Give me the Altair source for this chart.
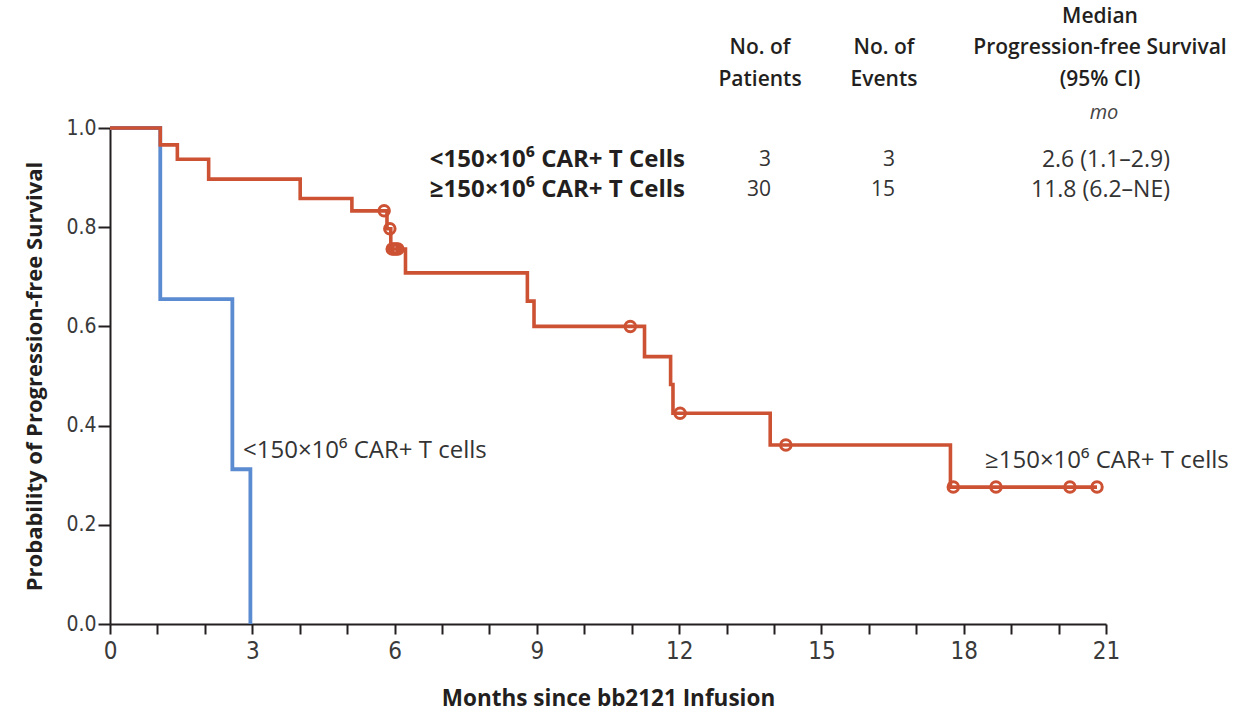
import altair as alt
import pandas as pd

# ---- Kaplan–Meier curves (months, survival probability after each step) ----
low_time = [0.0, 1.06, 2.58, 2.96]
low_surv = [1.0, 0.655, 0.312, 0.0]

high_time = [0.0, 1.06, 1.42, 2.08, 4.01, 5.10, 5.84, 5.92, 6.23, 8.80, 8.94,
             11.27, 11.82, 11.87, 13.92, 17.72, 20.81]
high_surv = [1.0, 0.966, 0.937, 0.897, 0.858, 0.833, 0.797, 0.756, 0.708, 0.651,
             0.600, 0.539, 0.483, 0.425, 0.361, 0.276, 0.276]

# censored observations in the high-dose group (months)
high_censor = [5.78, 5.90, 5.95, 5.99, 6.03, 6.07, 10.97, 12.02, 14.25,
               17.78, 18.68, 20.24, 20.81]

# ---- summary table ----
groups = ["<150×10⁶ CAR+ T Cells", "≥150×10⁶ CAR+ T Cells"]
patients = ["3", "30"]
events = ["3", "15"]
median_pfs = ["2.6 (1.1–2.9)", "11.8 (6.2–NE)"]

x_ticks = list(range(0, 22))
y_ticks = [0.0, 0.2, 0.4, 0.6, 0.8, 1.0]

RED = "#cd5234"
BLUE = "#5b8bd0"
INK = "#231f20"
NARROW = "Liberation Sans Narrow, DejaVu Sans Condensed, sans-serif"
SANS = "Open Sans, Noto Sans, sans-serif"
HEADF = "Open Sans, Lato, sans-serif"

W, H = 996, 496
LEFT, TOP = 110, 128


def step_value(t, times, surv):
    """Survival level of a step curve at time t."""
    val = surv[0]
    for ti, si in zip(times, surv):
        if ti <= t:
            val = si
    return val


low_df = pd.DataFrame({"t": low_time, "s": low_surv})
high_df = pd.DataFrame({"t": high_time, "s": high_surv})
cens_df = pd.DataFrame({
    "t": high_censor,
    "s": [step_value(t, high_time, high_surv) for t in high_censor],
})

x_axis = alt.Axis(
    values=x_ticks,
    labelExpr="datum.value % 3 === 0 ? datum.label : ''",
    labelFlush=False, labelOverlap=False,
    tickSize=10, tickWidth=2, tickColor=INK, domainColor=INK, domainWidth=2,
    labelFont=NARROW, labelFontSize=24, labelColor="#3a3a3a", labelPadding=5,
    grid=False,
    title="Months since bb2121 Infusion",
    titleFont=SANS, titleFontSize=22.5, titleFontWeight="bold", titleColor=INK,
    titleY=81, titleBaseline="alphabetic",
)
y_axis = alt.Axis(
    values=y_ticks, format=".1f",
    labelFlush=False, labelOverlap=False,
    tickSize=12, tickWidth=2, tickColor=INK, domainColor=INK, domainWidth=2,
    labelFont=NARROW, labelFontSize=21, labelColor="#3a3a3a", labelPadding=2,
    grid=False,
    title="Probability of Progression-free Survival",
    titleFont=SANS, titleFontSize=22, titleFontWeight="bold", titleColor=INK,
    titleX=-76, titleY=H / 2, titleBaseline="middle",
)
x_enc = alt.X("t:Q", scale=alt.Scale(domain=[0, 21], nice=False, zero=False), axis=x_axis)
y_enc = alt.Y("s:Q", scale=alt.Scale(domain=[0, 1], nice=False), axis=y_axis)

low_line = alt.Chart(low_df).mark_line(
    interpolate="step-after", color=BLUE, strokeWidth=3.8
).encode(x=x_enc, y=y_enc)

high_line = alt.Chart(high_df).mark_line(
    interpolate="step-after", color=RED, strokeWidth=3.6
).encode(x=x_enc, y=y_enc)

censor_marks = alt.Chart(cens_df).mark_point(
    shape="circle", filled=False, color=RED, size=110, strokeWidth=3, opacity=1
).encode(x=x_enc, y=y_enc)


def note(text, x, y, size, font, weight="normal", align="center", style="normal",
         baseline="middle", color=INK):
    """Free-standing text placed in page pixels."""
    return alt.Chart(pd.DataFrame({"label": [text]})).mark_text(
        font=font, fontSize=size, fontWeight=weight, fontStyle=style,
        align=align, baseline=baseline, color=color,
    ).encode(text="label:N", x=alt.value(x - LEFT), y=alt.value(y - TOP))


layers = [low_line, high_line, censor_marks]

# curve labels
layers.append(note("<150×10⁶ CAR+ T cells", 243, 451, 24, SANS, align="left", color="#333"))
layers.append(note("≥150×10⁶ CAR+ T cells", 985, 461, 24, SANS, align="left", color="#333"))

# table header
HEAD = 21
layers += [
    note("No. of", 760, 48, HEAD, HEADF, weight=600),
    note("Patients", 760, 80, HEAD, HEADF, weight=600),
    note("No. of", 884, 48, HEAD, HEADF, weight=600),
    note("Events", 884, 80, HEAD, HEADF, weight=600),
    note("Median", 1100, 17, HEAD, HEADF, weight=600),
    note("Progression-free Survival", 1100, 48, HEAD, HEADF, weight=600),
    note("(95% CI)", 1100, 80, HEAD, HEADF, weight=600),
    note("mo", 1104, 113, 20, SANS, style="italic", color="#444"),
]

# table rows
for row_y, g, p, e, m in zip([160, 190], groups, patients, events, median_pfs):
    layers += [
        note(g, 685, row_y, 24, SANS, weight="bold", align="right"),
        note(p, 771, row_y, 21, SANS, align="right", color="#333"),
        note(e, 895, row_y, 21, SANS, align="right", color="#333"),
        note(m, 1170, row_y, 23, SANS, align="right", color="#333"),
    ]

chart = alt.layer(*layers).properties(
    width=W, height=H,
    autosize=alt.AutoSizeParams(type="none"),
    padding={"left": LEFT, "top": TOP, "right": 1235 - LEFT - W, "bottom": 713 - TOP - H},
    background="white",
).configure_view(stroke=None)

chart.save("out.html", embed_options={"renderer": "svg", "actions": False})
